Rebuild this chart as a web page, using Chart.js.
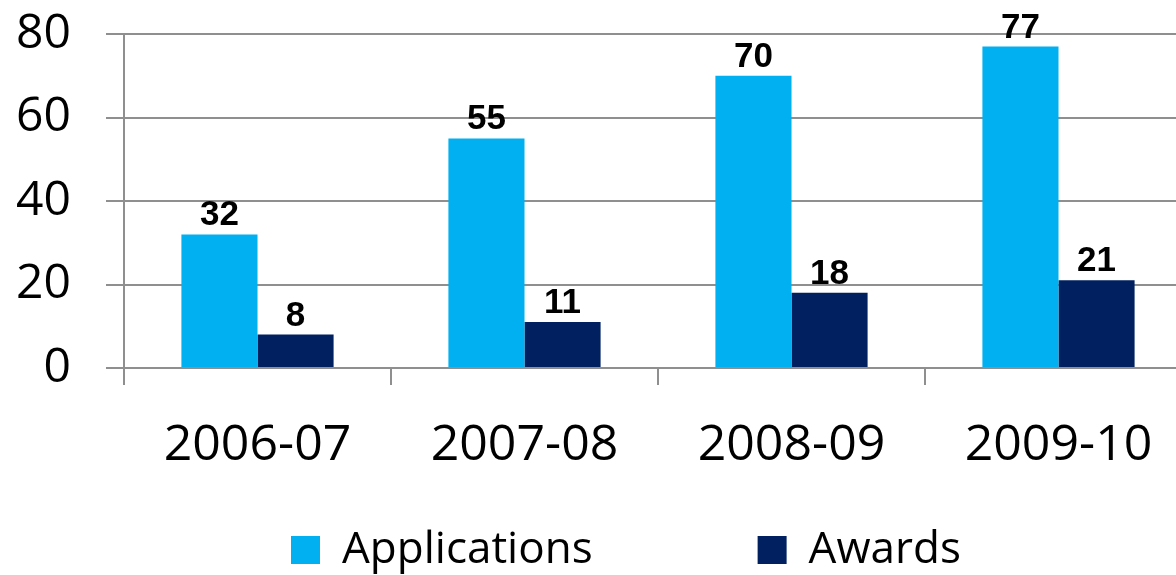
<!DOCTYPE html>
<html>
<head>
<meta charset="utf-8">
<title>Applications and Awards</title>
<script src="https://cdn.jsdelivr.net/npm/chart.js@4/dist/chart.umd.min.js"></script>
<style>
  html, body { margin: 0; padding: 0; background: #fff; }
  #wrap { width: 1176px; height: 575px; overflow: hidden; position: relative; }
  #chart { display: block; }
</style>
</head>
<body>
<div id="wrap">
  <canvas id="chart" width="1195" height="575"></canvas>
</div>
<script>
const years = ['2006-07', '2007-08', '2008-09', '2009-10'];
const applications = [32, 55, 70, 77];
const awards = [8, 11, 18, 21];
const yTicks = [0, 20, 40, 60, 80];

const gridColor = '#8f8f8f';

// value printed above every bar
const barValues = {
  id: 'barValues',
  afterDatasetsDraw(chart) {
    const ctx = chart.ctx;
    ctx.save();
    ctx.font = 'bold 35px "Liberation Sans", Arial, sans-serif';
    ctx.fillStyle = '#000';
    ctx.textAlign = 'center';
    ctx.textBaseline = 'alphabetic';
    chart.data.datasets.forEach((ds, i) => {
      chart.getDatasetMeta(i).data.forEach((bar, j) => {
        ctx.fillText(String(ds.data[j]), bar.x, bar.y - 9);
      });
    });
    ctx.restore();
  }
};

// legend sits low and left of centre, with wide spacing between items
const legendPlacement = {
  id: 'legendPlacement',
  afterLayout(chart) {
    const lg = chart.legend;
    if (!lg || !lg.lineWidths) return;
    const pad = lg.options.labels.padding;
    const startX = (lg.left + pad + lg.right - lg.lineWidths[0]) / 2;
    const dx = 291 - startX;
    lg.left += dx;
    lg.right += dx;
    lg.top = 528 - pad;
    lg.height = lg.bottom - lg.top;
  }
};

new Chart(document.getElementById('chart'), {
  type: 'bar',
  data: {
    labels: years,
    datasets: [
      { label: 'Applications', data: applications, backgroundColor: '#00B0F0' },
      { label: 'Awards', data: awards, backgroundColor: '#002060' }
    ]
  },
  options: {
    responsive: false,
    animation: false,
    devicePixelRatio: 1,
    layout: { padding: { top: 0, right: 3, left: 0, bottom: 0 } },
    datasets: {
      bar: { categoryPercentage: 0.57, barPercentage: 1.0 }
    },
    scales: {
      x: {
        grid: { offset: true, drawOnChartArea: false, tickLength: 17, color: gridColor, lineWidth: 2 },
        border: { color: gridColor, width: 2 },
        ticks: {
          color: '#000',
          padding: 31,
          font: { family: '"Open Sans", sans-serif', size: 50 }
        },
        afterFit(scale) { scale.height = 167; }
      },
      y: {
        min: 0,
        max: 80,
        afterBuildTicks(scale) { scale.ticks = yTicks.map(v => ({ value: v })); },
        grid: { tickLength: 18, color: gridColor, lineWidth: 2 },
        border: { color: gridColor, width: 2 },
        ticks: {
          color: '#000',
          padding: 35,
          font: { family: '"Open Sans", sans-serif', size: 48 }
        },
        afterFit(scale) {
          scale.width = 124;
          scale.paddingTop = 34;
          scale.paddingBottom = 0;
        }
      }
    },
    plugins: {
      tooltip: { enabled: false },
      legend: {
        position: 'bottom',
        maxHeight: 40,
        labels: {
          color: '#000',
          boxWidth: 29,
          boxHeight: 28,
          padding: 165,
          font: { family: '"Open Sans", sans-serif', size: 44 }
        }
      }
    }
  },
  plugins: [barValues, legendPlacement]
});
</script>
</body>
</html>
